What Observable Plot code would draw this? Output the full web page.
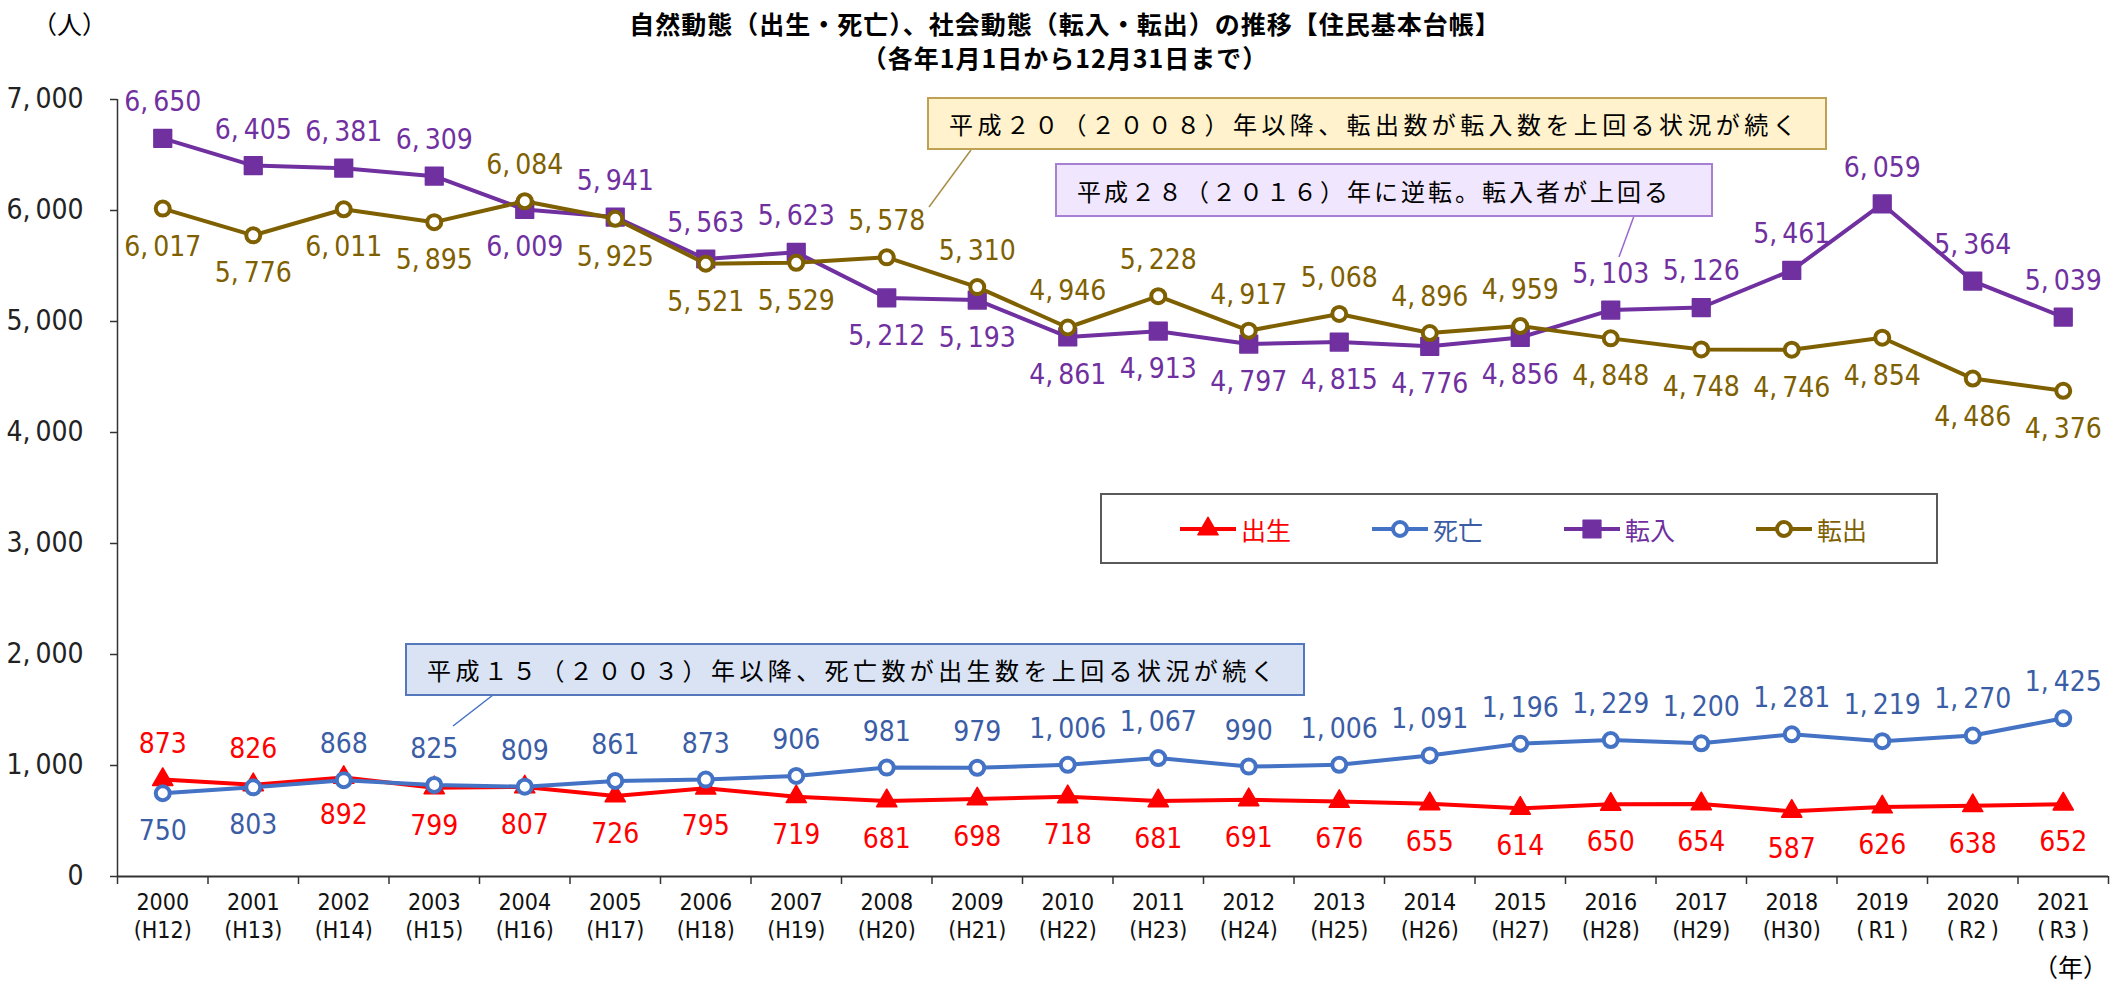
<!DOCTYPE html>
<html><head><meta charset="utf-8">
<script src="https://cdn.jsdelivr.net/npm/d3@7"></script>
<script src="https://cdn.jsdelivr.net/npm/@observablehq/plot@0.6"></script>
<style>
body{margin:0;background:#fff;}
#wrap{position:relative;width:2114px;height:989px;overflow:hidden;font-family:"Noto Sans CJK JP",sans-serif;color:#000;}
.abs{position:absolute;white-space:nowrap;}
.title{left:0;width:2130px;text-align:center;font-weight:bold;font-size:25px;line-height:30px;letter-spacing:1px;}
.note{box-sizing:border-box;border:2px solid;font-size:24px;display:flex;align-items:center;padding-left:20px;}
#legend{left:1100px;top:493px;width:838px;height:71px;box-sizing:border-box;border:2px solid #595959;background:#fff;}
.item{position:absolute;top:0;height:67px;display:flex;align-items:center;font-size:25px;}
.item svg{display:block;margin-right:5px;}
</style></head><body>
<div id="wrap">
  <div id="chart" class="abs" style="left:0;top:0"></div>
  <div class="abs title" style="top:8px">自然動態（出生・死亡）、社会動態（転入・転出）の推移【住民基本台帳】</div>
  <div class="abs title" style="top:42px">（各年1月1日から12月31日まで）</div>
  <div class="abs" style="left:32px;top:8px;font-size:25px;line-height:30px">（人）</div>
  <div class="abs" style="left:2033px;top:951px;font-size:25px;line-height:30px">（年）</div>
  <svg class="abs" style="left:0;top:0" width="2114" height="989" id="leaders"></svg>
  <div class="abs note" style="left:927px;top:97px;width:900px;height:53px;background:#FFF2CC;border-color:#BFA154;letter-spacing:4.4px">平成２０（２００８）年以降、転出数が転入数を上回る状況が続く</div>
  <div class="abs note" style="left:1055px;top:163px;width:658px;height:54px;background:#F0E6FD;border-color:#A77FD3;letter-spacing:3px">平成２８（２０１６）年に逆転。転入者が上回る</div>
  <div class="abs note" style="left:405px;top:643px;width:900px;height:53px;background:#DAE3F3;border-color:#5577BB;letter-spacing:4.4px">平成１５（２００３）年以降、死亡数が出生数を上回る状況が続く</div>
  <div class="abs" id="legend"></div>
</div>
<script>
// ---- data ----
const years = [2000,2001,2002,2003,2004,2005,2006,2007,2008,2009,2010,2011,2012,2013,2014,2015,2016,2017,2018,2019,2020,2021];
const eras  = ["H12","H13","H14","H15","H16","H17","H18","H19","H20","H21","H22","H23","H24","H25","H26","H27","H28","H29","H30","\u2009R1\u2009","\u2009R2\u2009","\u2009R3\u2009"];
const births = [873,826,892,799,807,726,795,719,681,698,718,681,691,676,655,614,650,654,587,626,638,652];
const deaths = [750,803,868,825,809,861,873,906,981,979,1006,1067,990,1006,1091,1196,1229,1200,1281,1219,1270,1425];
const moveIn = [6650,6405,6381,6309,6009,5941,5563,5623,5212,5193,4861,4913,4797,4815,4776,4856,5103,5126,5461,6059,5364,5039];
const moveOut = [6017,5776,6011,5895,6084,5925,5521,5529,5578,5310,4946,5228,4917,5068,4896,4959,4848,4748,4746,4854,4486,4376];
const yTicks = [0,1000,2000,3000,4000,5000,6000,7000];
const seriesNames = ["出生","死亡","転入","転出"];

// label placement (years whose value label sits below the point)
const belowYears = {
  "出生": [2002,2003,2004,2005,2006,2007,2008,2009,2010,2011,2012,2013,2014,2015,2016,2017,2018,2019,2020,2021],
  "死亡": [2000,2001],
  "転入": [2004,2008,2009,2010,2011,2012,2013,2014,2015],
  "転出": [2000,2001,2002,2003,2005,2006,2007,2016,2017,2018,2019,2020,2021]
};

const numFont = '"Liberation Sans Narrow","DejaVu Sans Condensed","Noto Sans CJK JP",sans-serif';
const fmt = v => d3.format(",")(v).replace(",", ",\u2009");

const styles = {
  "出生": {line:"#FF0000", text:"#FF0000", symbol:"triangle", r:7.5, fill:"#FF0000", stroke:"#FF0000", sw:1.5},
  "死亡": {line:"#4472C4", text:"#3A5DA6", symbol:"circle", r:7, fill:"#FFFFFF", stroke:"#4472C4", sw:4},
  "転入": {line:"#7030A0", text:"#7030A0", symbol:"square", r:10, fill:"#7030A0", stroke:"#7030A0", sw:1.5},
  "転出": {line:"#7F6000", text:"#7F6000", symbol:"circle", r:7, fill:"#FFFFFF", stroke:"#7F6000", sw:4}
};
const valuesBy = {"出生": births, "死亡": deaths, "転入": moveIn, "転出": moveOut};

const boundaries = years.map(y => y - 0.5).concat([years[years.length-1] + 0.5]);
const xLabels = years.map((y, i) => ({year: y, label: `${y}\n(${eras[i]})`}));

const marks = [
  Plot.axisY({ticks: yTicks, tickSize: 7, tickPadding: 27, tickFormat: fmt, fontSize: 28, fontFamily: numFont, label: null, stroke: "#333", strokeWidth: 1.5}),
  Plot.axisX({ticks: boundaries, tickSize: 8, tickFormat: () => "", label: null, stroke: "#333", strokeWidth: 1.5}),
  Plot.text(xLabels, {x: "year", y: () => 0, text: "label", lineAnchor: "top", dy: 14, fontSize: 23, lineHeight: 1.22, fontFamily: numFont, fill: "#111"}),
  Plot.ruleX([boundaries[0]], {stroke: "#333", strokeWidth: 1.5}),
  Plot.ruleY([0], {stroke: "#333", strokeWidth: 2})
];

for (const name of seriesNames) {
  const s = styles[name];
  const rows = years.map((y, i) => ({year: y, value: valuesBy[name][i]}));
  const below = new Set(belowYears[name]);
  marks.push(Plot.line(rows, {x: "year", y: "value", stroke: s.line, strokeWidth: 4, strokeLinejoin: "round"}));
  marks.push(Plot.dot(rows, {x: "year", y: "value", symbol: s.symbol, r: s.r, fill: s.fill, stroke: s.stroke, strokeWidth: s.sw, strokeLinejoin: "round"}));
  marks.push(Plot.text(rows.filter(d => !below.has(d.year)), {x: "year", y: "value", text: d => fmt(d.value), dy: -36, fontSize: 28, fontFamily: numFont, fill: s.text}));
  marks.push(Plot.text(rows.filter(d => below.has(d.year)), {x: "year", y: "value", text: d => fmt(d.value), dy: 38, fontSize: 28, fontFamily: numFont, fill: s.text}));
}

const chart = Plot.plot({
  width: 2114, height: 989,
  marginLeft: 117, marginRight: 6, marginTop: 99, marginBottom: 113,
  x: {type: "linear", domain: [boundaries[0], boundaries[boundaries.length-1]]},
  y: {domain: [0, 7000]},
  style: {background: "transparent", fontFamily: numFont, color: "#222", overflow: "visible"},
  marks
});
document.getElementById("chart").appendChild(chart);

// leader lines for the notes
const leaders = [
  {x1: 971, y1: 150, x2: 929, y2: 207, c: "#A88E46"},
  {x1: 1634, y1: 216, x2: 1619, y2: 257, c: "#9966CC"},
  {x1: 493, y1: 695, x2: 453, y2: 726, c: "#4472C4"}
];
const ls = document.getElementById("leaders");
for (const l of leaders) {
  const e = document.createElementNS("http://www.w3.org/2000/svg", "line");
  e.setAttribute("x1", l.x1); e.setAttribute("y1", l.y1);
  e.setAttribute("x2", l.x2); e.setAttribute("y2", l.y2);
  e.setAttribute("stroke", l.c); e.setAttribute("stroke-width", 1.5);
  ls.appendChild(e);
}

// legend
const legend = document.getElementById("legend");
const legendX = [78, 270, 462, 654];
const symbolPath = {
  triangle: d3.symbol(d3.symbolTriangle, Math.PI * 7.5 * 7.5)(),
  square: d3.symbol(d3.symbolSquare, Math.PI * 10 * 10)(),
  circle: d3.symbol(d3.symbolCircle, Math.PI * 7 * 7)()
};
seriesNames.forEach((name, i) => {
  const s = styles[name];
  const div = document.createElement("div");
  div.className = "item";
  div.style.left = legendX[i] + "px";
  div.innerHTML = `<svg width="56" height="26" viewBox="-28 -13 56 26">
    <line x1="-28" x2="28" y1="0" y2="0" stroke="${s.line}" stroke-width="4"/>
    <path d="${symbolPath[s.symbol]}" fill="${s.fill}" stroke="${s.stroke}" stroke-width="${s.sw}" stroke-linejoin="round"/>
  </svg><span style="color:${s.text}">${name}</span>`;
  legend.appendChild(div);
});
</script>
</body></html>
